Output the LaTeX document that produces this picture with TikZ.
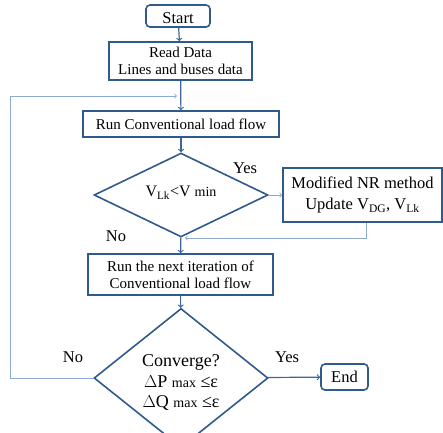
\documentclass[tikz,border=0pt]{standalone}
\usepackage{fontspec}
\setmainfont{Liberation Serif}
\usetikzlibrary{shapes.geometric, arrows}
\definecolor{boxblue}{HTML}{2F5A8C}
\definecolor{lineblue}{HTML}{3D679B}
\definecolor{loopblue}{HTML}{8EAAD0}
\tikzstyle{startstop} = [rectangle, rounded corners=4pt, draw=boxblue, line width=1.6pt, inner sep=0pt, font=\fontsize{16.5}{16.5}\selectfont]
\tikzstyle{process} = [rectangle, draw=boxblue, line width=1.6pt, inner sep=0pt, align=center, font=\fontsize{15}{17}\selectfont]
\tikzstyle{decision} = [diamond, draw=boxblue, line width=1.6pt, inner sep=0pt, align=center, font=\fontsize{18}{20.5}\selectfont]
\tikzstyle{lbl} = [font=\fontsize{16.5}{16.5}\selectfont]
\tikzstyle{arrow} = [line width=1.2pt, draw=lineblue, ->]
\tikzstyle{thinarrow} = [line width=0.9pt, draw=loopblue, ->]
\newcommand{\smalltxt}[1]{{\fontsize{14}{14}\selectfont #1}}
\newcommand{\shiftdown}[2]{\raisebox{-#1}[\height][\depth]{#2}}

\begin{document}
\begin{tikzpicture}[x=1pt, y=-1pt]
  \clip (0,0) rectangle (443,432);
  \useasboundingbox (0,0) rectangle (443,432);
  % main column
  \node[startstop, minimum width=64pt, minimum height=22pt] (start) at (178,16) {\shiftdown{2pt}{Start}};
  \node[process, minimum width=143pt, minimum height=38pt] (read) at (180.5,61) {Read Data\\Lines and buses data};
  \node[process, minimum width=196pt, minimum height=26pt] (runclf) at (181,124) {Run Conventional load flow};
  \node[decision, minimum width=174pt, minimum height=74pt, font=\fontsize{16}{16}\selectfont] (check) at (181,195) {\shiftdown{-2pt}{V\textsubscript{Lk}<V \smalltxt{min}}};
  \node[process, minimum width=159pt, minimum height=54pt, font=\fontsize{16.5}{21}\selectfont] (modnr) at (362.5,195) {Modified NR method\\Update V\textsubscript{DG}, V\textsubscript{Lk}};
  \node[process, minimum width=185pt, minimum height=41pt] (runnext) at (180.5,274.5) {Run the next iteration of\\Conventional load flow};
  \node[decision, minimum width=174pt, minimum height=120pt] (conv) at (181,378) {\shiftdown{5pt}{\begin{tabular}{@{}c@{}}Converge?\\$\Delta$P \smalltxt{max} ≤ε\\$\Delta$Q \smalltxt{max} ≤ε\end{tabular}}};
  \node[startstop, minimum width=47pt, minimum height=26pt] (stop) at (344.5,377) {End};

  % labels
  \node[lbl] (yes1) at (245,168) {Yes};
  \node[lbl] (no1) at (116,236) {No};
  \node[lbl] (yes2) at (287,357) {Yes};
  \node[lbl] (no2) at (73,357) {No};

  % connectors
  \coordinate (loopl) at (10,378);
  \coordinate (loopin) at (177,96);
  \coordinate (nrin) at (185,238);
  \draw[arrow] (start) -- (read);
  \draw[arrow] (read) -- (runclf);
  \draw[arrow] (runclf) -- (check);
  \draw[arrow] (check) -- (runnext);
  \draw[arrow] (runnext) -- (conv);
  \draw[arrow] (conv) -- (stop);
  \draw[thinarrow] (check) -- (modnr);
  \draw[thinarrow] ([xshift=3.5pt]modnr.south) |- (nrin);
  \draw[thinarrow] (conv.west) -- (loopl) |- (loopin);
\end{tikzpicture}
\end{document}
